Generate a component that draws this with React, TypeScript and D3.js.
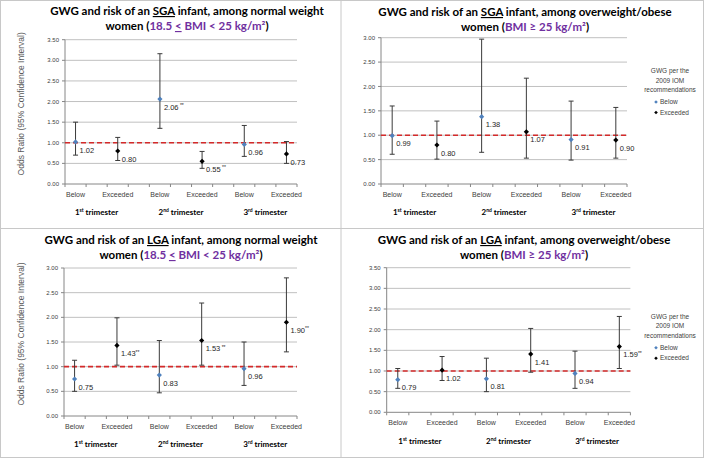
import React from 'react';
import * as d3 from 'd3';

// categories and trimester groupings (shared by all four panels)
const categories = ['Below', 'Exceeded', 'Below', 'Exceeded', 'Below', 'Exceeded'];
const trimesterNum = ['1', '2', '3'];
const trimesterSup = ['st', 'nd', 'rd'];
const yTitle = 'Odds Ratio  (95% Confidence  Interval)';

// SGA, normal weight
const sgaNormalOR = [1.02, 0.8, 2.06, 0.55, 0.96, 0.73];
const sgaNormalLo = [0.7, 0.57, 1.35, 0.38, 0.67, 0.5];
const sgaNormalHi = [1.5, 1.13, 3.16, 0.79, 1.42, 1.03];
const sgaNormalSig = ['', '', ' **', ' **', '', ''];

// SGA, overweight/obese
const sgaOverOR = [0.99, 0.8, 1.38, 1.07, 0.91, 0.9];
const sgaOverLo = [0.61, 0.51, 0.65, 0.53, 0.49, 0.53];
const sgaOverHi = [1.6, 1.29, 2.97, 2.17, 1.7, 1.57];
const sgaOverSig = ['', '', '', '', '', ''];

// LGA, normal weight
const lgaNormalOR = [0.75, 1.43, 0.83, 1.53, 0.96, 1.9];
const lgaNormalLo = [0.5, 1.03, 0.47, 1.03, 0.62, 1.3];
const lgaNormalHi = [1.13, 1.99, 1.53, 2.29, 1.5, 2.8];
const lgaNormalSig = ['', '**', '', ' **', '', '**'];

// LGA, overweight/obese
const lgaOverOR = [0.79, 1.02, 0.81, 1.41, 0.94, 1.59];
const lgaOverLo = [0.58, 0.77, 0.5, 0.97, 0.58, 1.06];
const lgaOverHi = [1.06, 1.35, 1.31, 2.03, 1.48, 2.32];
const lgaOverSig = ['', '', '', '', '', '**'];

const legendLines = ['GWG per the', '2009 IOM', 'recommendations'];
const legendItems = ['Below', 'Exceeded'];

const C = {
  blue: '#4f81bd',
  black: '#000000',
  grid: '#c0c0c0',
  axis: '#868686',
  text: '#404040',
  red: '#d42a2a',
  purple: '#7030a0',
  frame: '#c8c8c8',
};

const AX_FONT = "'Liberation Sans', Arial, sans-serif";
const TITLE_FONT = "Lato, 'Open Sans', sans-serif";

const diamond = (r: number) => `M0,${-r}L${r},0L0,${r}L${-r},0Z`;

function Panel(props: any) {
  const { kind, bmi, cx, titleY, yMax, or, lo, hi, sig, x0, x1, yTop, yBottom, showYTitle, legend } = props;
  const x = d3.scaleLinear().domain([0.75, 6.25]).range([x0, x1]);
  const y = d3.scaleLinear().domain([0, yMax]).range([yBottom, yTop]);
  const yTicks = d3.range(0, yMax + 0.01, 0.5);
  const xTicks = d3.range(0.75, 6.26, 0.5);
  const purpleText =
    bmi === 'normal' ? (
      <>
        <tspan fill={C.purple}>18.5 </tspan>
        <tspan fill={C.purple} style={{ textDecoration: 'underline' }}>{'<'}</tspan>
        <tspan fill={C.purple}>{'  BMI < 25 kg/m²'}</tspan>
      </>
    ) : (
      <tspan fill={C.purple}>{'BMI ≥ 25 kg/m²'}</tspan>
    );
  return (
    <g>
      <text x={cx} y={titleY} textAnchor="middle" fontFamily={TITLE_FONT} fontWeight="bold" fontSize={11.5} fill="#000">
        <tspan>GWG and risk of an </tspan>
        <tspan style={{ textDecoration: 'underline' }}>{kind}</tspan>
        <tspan>{bmi === 'normal' ? ' infant, among normal weight' : ' infant, among overweight/obese'}</tspan>
      </text>
      <text x={cx} y={titleY + 15} textAnchor="middle" fontFamily={TITLE_FONT} fontWeight="bold" fontSize={11.5} fill="#000">
        <tspan>women (</tspan>
        {purpleText}
        <tspan>)</tspan>
      </text>

      {/* gridlines */}
      {yTicks.filter(t => t > 0).map(t => (
        <line key={t} x1={x0} x2={x1} y1={y(t)} y2={y(t)} stroke={C.grid} strokeWidth={1} />
      ))}
      {/* y axis */}
      <line x1={x0} x2={x0} y1={yTop} y2={yBottom} stroke={C.axis} />
      {yTicks.map(t => (
        <g key={t}>
          <line x1={x0 - 3} x2={x0} y1={y(t)} y2={y(t)} stroke={C.axis} />
          <text x={x0 - 6} y={y(t)} dy="0.35em" textAnchor="end" fontFamily={AX_FONT} fontSize={6} fill={C.text}>
            {t.toFixed(2)}
          </text>
        </g>
      ))}
      {/* x axis */}
      <line x1={x0} x2={x1} y1={yBottom} y2={yBottom} stroke={C.axis} />
      {xTicks.map(t => (
        <line key={t} x1={x(t)} x2={x(t)} y1={yBottom} y2={yBottom + 3} stroke={C.axis} />
      ))}
      {categories.map((c, i) => (
        <text key={i} x={x(i + 1)} y={yBottom + 10.5} dy="0.35em" textAnchor="middle" fontFamily={AX_FONT} fontSize={7} fill={C.text}>
          {c}
        </text>
      ))}
      {trimesterNum.map((n, i) => (
        <text key={n} x={x(i * 2 + 1.5)} y={yBottom + 28.5} dy="0.35em" textAnchor="middle" fontFamily={TITLE_FONT} fontWeight="bold" fontSize={8} fill="#000">
          <tspan>{n}</tspan>
          <tspan fontSize={5} dy={-3}>{trimesterSup[i]}</tspan>
          <tspan dy={3}> trimester</tspan>
        </text>
      ))}

      {/* reference line at OR = 1 */}
      <line x1={x0} x2={x1} y1={y(1)} y2={y(1)} stroke={C.red} strokeWidth={1.6} strokeDasharray="5 3" />

      {/* error bars + points */}
      {or.map((v: number, i: number) => {
        const px = x(i + 1);
        return (
          <g key={i}>
            <line x1={px} x2={px} y1={y(lo[i])} y2={y(hi[i])} stroke="#3a3a3a" strokeWidth={1} />
            <line x1={px - 2.5} x2={px + 2.5} y1={y(lo[i])} y2={y(lo[i])} stroke="#3a3a3a" />
            <line x1={px - 2.5} x2={px + 2.5} y1={y(hi[i])} y2={y(hi[i])} stroke="#3a3a3a" />
            <path d={diamond(2.6)} transform={`translate(${px},${y(v)})`} fill={i % 2 === 0 ? C.blue : C.black} />
            <text x={px + 4} y={y(v) + 8} dy="0.35em" fontFamily={AX_FONT} fontSize={7.5} fill="#262626">
              <tspan>{v.toFixed(2)}</tspan>
              {sig[i] ? <tspan fontSize={5} dy={-2.5}>{sig[i]}</tspan> : null}
            </text>
          </g>
        );
      })}

      {showYTitle ? (
        <text transform={`translate(24,${(yTop + yBottom) / 2 - 8}) rotate(-90)`} textAnchor="middle" fontFamily={AX_FONT} fontSize={8.5} fill="#595959">
          {yTitle}
        </text>
      ) : null}

      {legend ? (
        <g fontFamily={AX_FONT} fontSize={6.5} fill={C.text}>
          {legendLines.map((l, i) => (
            <text key={l} x={legend.x} y={legend.y + i * 9.5} dy="0.35em" textAnchor="middle">{l}</text>
          ))}
          {legendItems.map((l, i) => (
            <g key={l} transform={`translate(${legend.x - 14},${legend.y + 31 + i * 10.5})`}>
              <path d={diamond(1.8)} fill={i === 0 ? C.blue : C.black} />
              <text x={4} dy="0.35em">{l}</text>
            </g>
          ))}
        </g>
      ) : null}
    </g>
  );
}

export default function App() {
  return (
    <svg width={704} height={458} style={{ position: 'absolute', left: 0, top: 0, background: '#fff' }}>
      <rect x={0.5} y={0.5} width={703} height={457} fill="#fff" stroke={C.frame} />
      <line x1={341} x2={341} y1={0} y2={458} stroke={C.frame} />
      <line x1={0} x2={704} y1={228.5} y2={228.5} stroke={C.frame} />

      <Panel kind="SGA" bmi="normal" cx={187} titleY={15} yMax={3.5}
        or={sgaNormalOR} lo={sgaNormalLo} hi={sgaNormalHi} sig={sgaNormalSig}
        x0={65} x1={297} yTop={39.7} yBottom={184} showYTitle />
      <Panel kind="SGA" bmi="over" cx={525} titleY={16} yMax={3.0}
        or={sgaOverOR} lo={sgaOverLo} hi={sgaOverHi} sig={sgaOverSig}
        x0={381} x1={627} yTop={37.7} yBottom={184} legend={{ x: 670, y: 71 }} />
      <Panel kind="LGA" bmi="normal" cx={181} titleY={244} yMax={3.0}
        or={lgaNormalOR} lo={lgaNormalLo} hi={lgaNormalHi} sig={lgaNormalSig}
        x0={64} x1={297} yTop={268} yBottom={416} showYTitle />
      <Panel kind="LGA" bmi="over" cx={524} titleY={244} yMax={3.5}
        or={lgaOverOR} lo={lgaOverLo} hi={lgaOverHi} sig={lgaOverSig}
        x0={386.7} x1={630.4} yTop={267.7} yBottom={412.3} legend={{ x: 670, y: 316.7 }} />
    </svg>
  );
}
